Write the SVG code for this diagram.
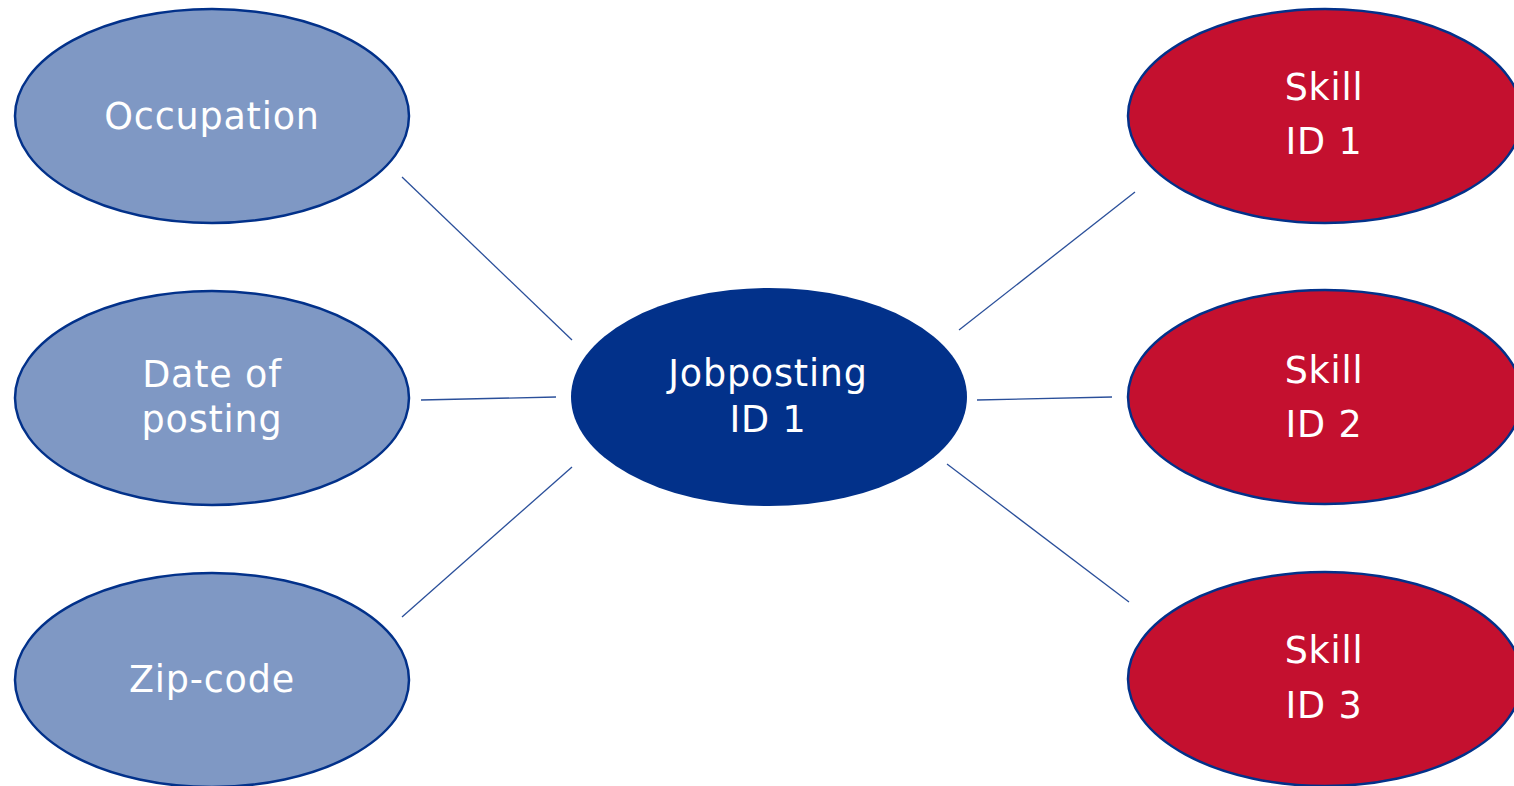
<svg xmlns="http://www.w3.org/2000/svg" width="1514" height="786" viewBox="0 0 1514 786">
  <style>
    .attr { fill: #7f98c4; stroke: #02318a; stroke-width: 2.5; }
    .hub { fill: #02318a; }
    .skill { fill: #c4102f; stroke: #02318a; stroke-width: 2.5; }
    .label { font-family: "DejaVu Sans", Verdana, sans-serif; font-size: 36.5px; letter-spacing: 0.8px; fill: #ffffff; text-anchor: middle; }
    .link { stroke: #2a4f9a; stroke-width: 1.3; fill: none; }
  </style>
  <rect width="1514" height="786" fill="#ffffff"/>

  <g id="connectors">
    <line class="link" x1="402" y1="177" x2="572" y2="340"/>
    <line class="link" x1="421" y1="400" x2="556" y2="397"/>
    <line class="link" x1="402" y1="617" x2="572" y2="467"/>
    <line class="link" x1="959" y1="330" x2="1135" y2="192"/>
    <line class="link" x1="977" y1="400" x2="1112" y2="397"/>
    <line class="link" x1="947" y1="464" x2="1129" y2="602"/>
  </g>

  <g id="occupation">
    <ellipse class="attr" cx="212" cy="116" rx="197" ry="107"/>
    <text class="label" x="212" y="129">Occupation</text>
  </g>

  <g id="date-of-posting">
    <ellipse class="attr" cx="212" cy="398" rx="197" ry="107"/>
    <text class="label" x="212" y="387">Date of</text>
    <text class="label" x="212" y="432">posting</text>
  </g>

  <g id="zip-code">
    <ellipse class="attr" cx="212" cy="680" rx="197" ry="107"/>
    <text class="label" x="212" y="692">Zip-code</text>
  </g>

  <g id="jobposting">
    <ellipse class="hub" cx="769" cy="397" rx="198" ry="109"/>
    <text class="label" x="768" y="386">Jobposting</text>
    <text class="label" x="768" y="432">ID 1</text>
  </g>

  <g id="skill-1">
    <ellipse class="skill" cx="1325" cy="116" rx="197" ry="107"/>
    <text class="label" x="1324" y="100">Skill</text>
    <text class="label" x="1324" y="154">ID 1</text>
  </g>

  <g id="skill-2">
    <ellipse class="skill" cx="1325" cy="397" rx="197" ry="107"/>
    <text class="label" x="1324" y="383">Skill</text>
    <text class="label" x="1324" y="437">ID 2</text>
  </g>

  <g id="skill-3">
    <ellipse class="skill" cx="1325" cy="679" rx="197" ry="107"/>
    <text class="label" x="1324" y="663">Skill</text>
    <text class="label" x="1324" y="718">ID 3</text>
  </g>
</svg>
